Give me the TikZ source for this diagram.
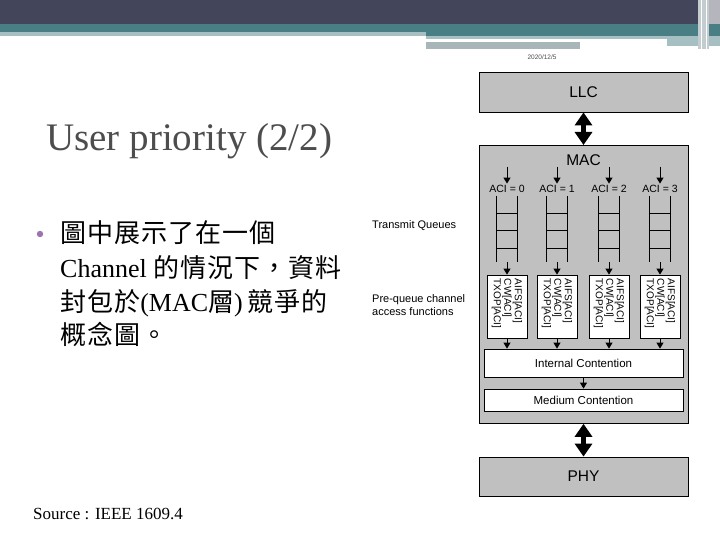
\documentclass[tikz,border=0pt]{standalone}
\usepackage{fontspec}
\setmainfont{Liberation Serif}
\setsansfont{Liberation Sans}
\newfontfamily\cjk[LetterSpace=4]{Noto Sans CJK TC}
\usetikzlibrary{positioning,arrows.meta}
\definecolor{slideDark}{HTML}{43455A}
\definecolor{slideTeal}{HTML}{487E84}
\definecolor{slidePale}{HTML}{A5BFC3}
\definecolor{slideGrey}{HTML}{A9B6B9}
\definecolor{slideLav}{HTML}{B5B5BE}
\definecolor{titleGrey}{HTML}{4D4D4D}
\definecolor{bulletPurple}{HTML}{9E72AE}
\definecolor{layerGrey}{HTML}{C0C0C0}

\begin{document}
\begin{tikzpicture}[x=1pt, y=-1pt, every node/.style={font=\sffamily},
  layerbox/.style={draw, fill=layerGrey, line width=0.8pt, minimum width=209pt, inner sep=0pt,
    font=\sffamily\fontsize{15.5}{18}\selectfont},
  contbox/.style={draw, fill=white, line width=0.8pt, minimum width=199pt, inner sep=0pt,
    font=\sffamily\fontsize{11.5}{13}\selectfont},
  fnbox/.style={draw, fill=white, line width=0.8pt, minimum width=40pt, minimum height=63pt, inner sep=0pt},
  fntext/.style={rotate=-90, anchor=west, align=left, inner sep=0pt,
    font=\sffamily\fontsize{10}{10.5}\selectfont},
  acilabel/.style={inner sep=1.5pt, font=\sffamily\fontsize{10.5}{12}\selectfont},
  sidelabel/.style={inner sep=0pt, align=left, font=\sffamily\fontsize{11}{13}\selectfont},
  bulletline/.style={anchor=base west, inner sep=0pt, font=\rmfamily\fontsize{26}{30}\selectfont},
  smallarrow/.style={-{Triangle[length=6pt,width=7pt]}, line width=1pt},
  bigarrow/.style={{Triangle[length=13pt,width=17pt]}-{Triangle[length=13pt,width=17pt]}, line width=5pt},
  queueline/.style={line width=0.8pt}]

  \useasboundingbox (0,0) rectangle (720,540);
  \fill[white] (0,0) rectangle (720,540);

  % slide header bands
  \fill[slideDark] (0,0) rectangle (720,24);
  \fill[slideLav] (709,0) rectangle (720,24);
  \fill[slideTeal] (0,24) rectangle (720,32);
  \fill[slidePale] (0,32) rectangle (426,36);
  \fill[slideTeal] (426,32) rectangle (720,36);
  \fill[slidePale] (426,36) rectangle (720,39);
  \fill[slidePale] (667,39) rectangle (720,46);
  \fill[slideGrey] (426,42) rectangle (580,49);
  \fill[slideGrey!70] (698,0) rectangle (709,49);
  \draw[white, line width=0.6pt] (701,0) -- (701,49) (706,0) -- (706,49);
  \node[inner sep=0pt, text=titleGrey, font=\sffamily\fontsize{6.5}{7}\selectfont] (date) at (542,57) {2020/12/5};

  % title and bullet text
  \node[anchor=base west, inner sep=0pt, text=titleGrey, font=\rmfamily\fontsize{39}{40}\selectfont] (title) at (46,151) {User priority (2/2)};
  \fill[bulletPurple] (40,234) circle (3.2pt);
  \node[bulletline] (bline1) at (60,243) {{\cjk 圖中展示了在一個}};
  \node[bulletline] (bline2) at (60,277.5) {Channel {\cjk 的情況下，資料}};
  \node[bulletline] (bline3) at (60,311) {{\cjk 封包於}(MAC{\cjk 層})\,{\cjk 競爭的}};
  \node[bulletline] (bline4) at (60,344.5) {{\cjk 概念圖。}};
  \node[anchor=base west, inner sep=0pt, font=\rmfamily\fontsize{17}{19}\selectfont] (source) at (33,519) {Source : IEEE 1609.4};

  % side labels
  \node[sidelabel, anchor=west] (tqlabel) at (372,226) {Transmit Queues};
  \node[sidelabel, anchor=west] (pqlabel) at (372,305.5) {Pre-queue channel\\access functions};

  % layers
  \node[layerbox, minimum height=40pt] (llc) at (583.5,92) {LLC};
  \node[layerbox, minimum height=278pt, anchor=north] (mac) at (583.5,145) {};
  \node[layerbox, draw=none, fill=none] (maclabel) at (583.5,160) {MAC};
  \node[layerbox, minimum height=39pt] (phy) at (583.5,476.5) {PHY};
  \node[contbox, minimum height=28pt] (internal) at (583.5,363) {Internal Contention};
  \node[contbox, minimum height=22pt] (medium) at (583.5,400) {Medium Contention};

  \draw[bigarrow] (llc.south) -- (mac.north);
  \draw[bigarrow] (mac.south) -- (phy.north);

  % access categories
  \foreach \i/\x in {0/507,1/557,2/609,3/660} {
    \coordinate (t\i) at (\x,167);
    \node[acilabel] (aci\i) at (\x,189) {ACI = \i};
    \draw[queueline] (\x-10.5,196) -- (\x-10.5,262) (\x+10.5,196) -- (\x+10.5,262);
    \foreach \h in {213,230,248}
      \draw[queueline] (\x-10.5,\h) -- (\x+10.5,\h);
    \coordinate (q\i) at (\x,262);
    \node[fnbox] (fn\i) at (\x,306.5) {};
    \node[fntext] (fntxt\i) at ([yshift=-4pt]fn\i.north) {AIFS[ACI]\\CW[ACI]\\TXOP[ACI]};
    \draw[smallarrow] (t\i) -- (aci\i.north);
    \draw[smallarrow] (q\i) -- (fn\i.north);
    \draw[smallarrow] (fn\i.south) -- (fn\i.south |- internal.north);
  }
  \draw[smallarrow] (internal) -- (medium);
\end{tikzpicture}
\end{document}
